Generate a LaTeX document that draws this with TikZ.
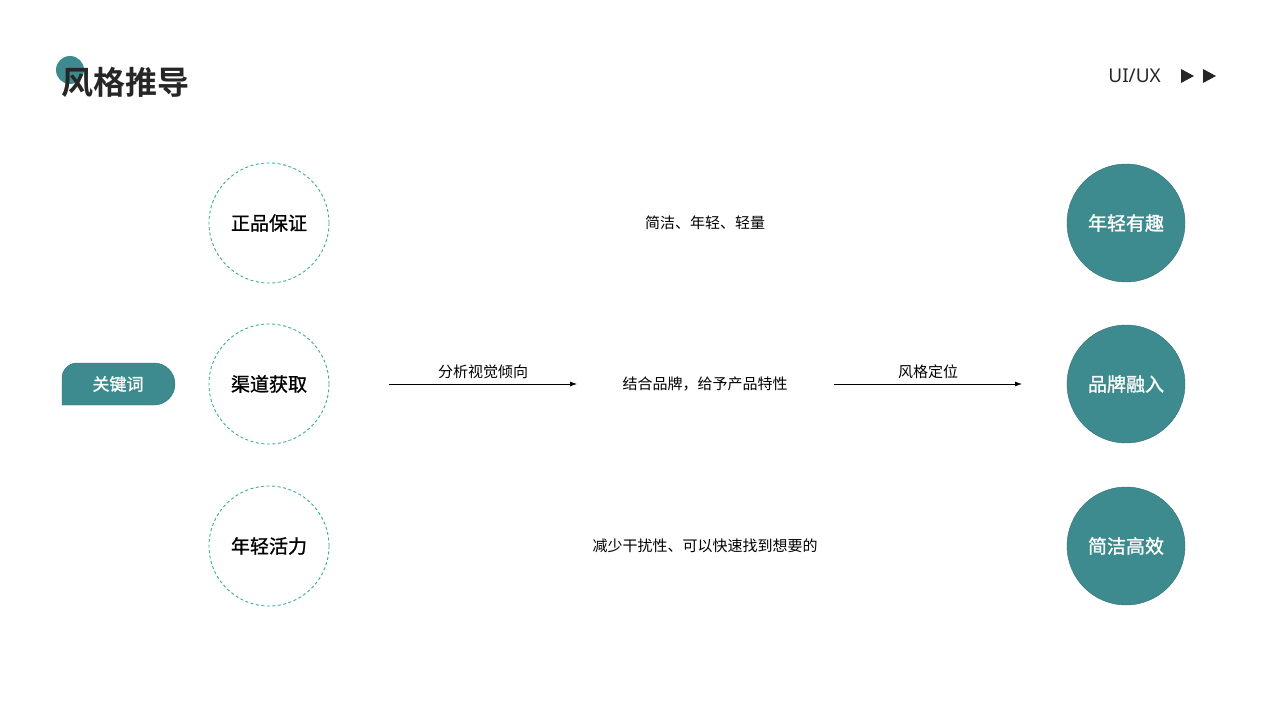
\documentclass[tikz,border=0pt]{standalone}
\usepackage{fontspec}
\newfontfamily\cjk{Noto Sans CJK SC}
\newfontfamily\cjkm[FakeBold=1.2]{Noto Sans CJK SC}
\newfontfamily\cjkb{Noto Sans CJK SC Bold}
\setmainfont{Noto Sans}
\usetikzlibrary{arrows.meta}
\definecolor{teal1}{HTML}{3D8B8E}
\definecolor{dash1}{HTML}{3AAE94}
\begin{document}
\begin{tikzpicture}[x=1pt,y=-1pt,
 dc/.style={circle,draw=dash1,line width=0.9pt,dash pattern=on 3pt off 2.5pt,minimum size=120pt,inner sep=0,font=\cjkm\fontsize{19}{20}\selectfont},
 fc/.style={circle,fill=teal1,draw=teal1!80!black,minimum size=118pt,inner sep=0,text=white,font=\cjkm\fontsize{19}{20}\selectfont},
 mt/.style={font=\cjk\fontsize{15}{16}\selectfont},
 ar/.style={-{Latex[length=7pt,width=5pt]},line width=0.8pt}]
\useasboundingbox (0,0) rectangle (1280,720);
\fill[teal1] (70,70) circle (14);
\node[anchor=west,inner sep=0,font=\cjkb\fontsize{32}{34}\selectfont,text=black!85] (title) at (61,82) {风格推导};
\node[anchor=east,inner sep=0,font=\fontsize{19}{20}\selectfont,text=black!85] (ux) at (1161,76) {UI/UX};
\fill[black!85] (1181,69) -- (1194,76) -- (1181,83) -- cycle;
\fill[black!85] (1203,69) -- (1216,76) -- (1203,83) -- cycle;
\fill[teal1,draw=teal1!80!black] (62,405) [rounded corners=15] -- (62,363) [rounded corners=21] -- (175,363) -- (175,405) [sharp corners] -- cycle;
\node[text=white,font=\cjkm\fontsize{17}{18}\selectfont] (kw) at (118,384) {关键词};
\node[dc] (a1) at (269,223) {正品保证};
\node[dc] (a2) at (269,384) {渠道获取};
\node[dc] (a3) at (269,546) {年轻活力};
\node[fc] (b1) at (1126,223) {年轻有趣};
\node[fc] (b2) at (1126,384) {品牌融入};
\node[fc] (b3) at (1126,546) {简洁高效};
\node[mt] (m1) at (705,223) {简洁、年轻、轻量};
\node[mt] (m2) at (705,384) {结合品牌，给予产品特性};
\node[mt] (m3) at (705,546) {减少干扰性、可以快速找到想要的};
\coordinate (p1) at (389,384); \coordinate (p2) at (577,384);
\coordinate (q1) at (834,384); \coordinate (q2) at (1022,384);
\draw[ar] (p1) -- node[above=2pt,mt]{分析视觉倾向} (p2);
\draw[ar] (q1) -- node[above=2pt,mt]{风格定位} (q2);
\end{tikzpicture}
\end{document}
